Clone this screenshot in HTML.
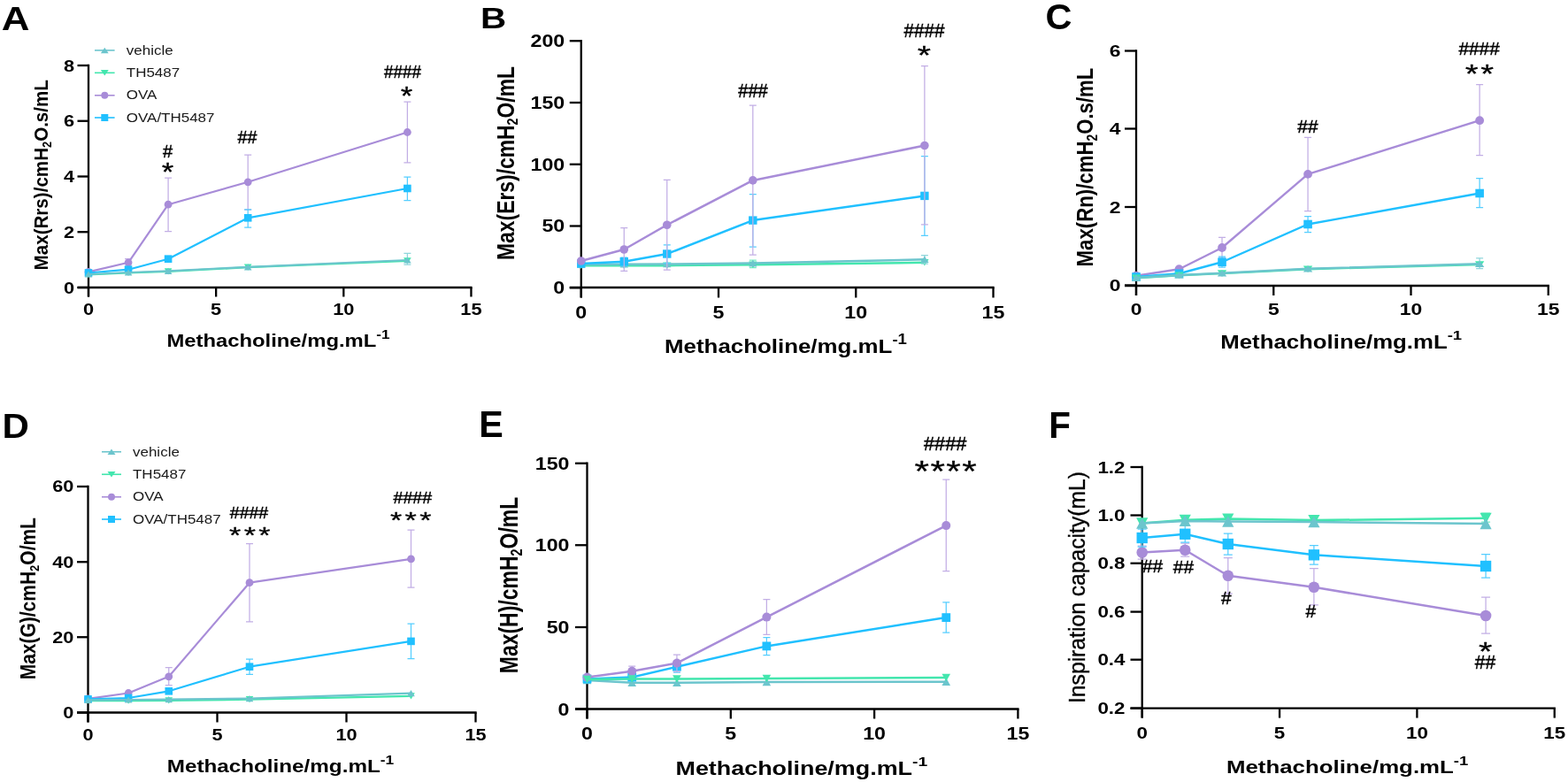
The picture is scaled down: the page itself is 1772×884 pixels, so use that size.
<!DOCTYPE html>
<html lang="en"><head><meta charset="utf-8"><title>Figure</title>
<style>html,body{margin:0;padding:0;background:#fff}body{width:1772px;height:884px;overflow:hidden}svg{display:block}</style></head>
<body>
<svg width="1772" height="884" viewBox="0 0 1772 884" font-family="'Liberation Sans', sans-serif">
<rect width="1772" height="884" fill="#fff"/>
<path d="M100.00,72.85V335.50" stroke="#000" stroke-width="2.3" fill="none"/>
<path d="M87.50,325.00H533.60" stroke="#000" stroke-width="2.3" fill="none"/>
<path d="M87.50,325.00H100.00" stroke="#000" stroke-width="2.3" fill="none"/>
<text transform="translate(84.00,331.50) scale(1.190,1.000)" font-size="18.3" font-weight="bold" text-anchor="end" fill="#000">0</text>
<path d="M87.50,262.25H100.00" stroke="#000" stroke-width="2.3" fill="none"/>
<text transform="translate(84.00,268.75) scale(1.190,1.000)" font-size="18.3" font-weight="bold" text-anchor="end" fill="#000">2</text>
<path d="M87.50,199.50H100.00" stroke="#000" stroke-width="2.3" fill="none"/>
<text transform="translate(84.00,206.00) scale(1.190,1.000)" font-size="18.3" font-weight="bold" text-anchor="end" fill="#000">4</text>
<path d="M87.50,136.75H100.00" stroke="#000" stroke-width="2.3" fill="none"/>
<text transform="translate(84.00,143.25) scale(1.190,1.000)" font-size="18.3" font-weight="bold" text-anchor="end" fill="#000">6</text>
<path d="M87.50,74.00H100.00" stroke="#000" stroke-width="2.3" fill="none"/>
<text transform="translate(84.00,80.50) scale(1.190,1.000)" font-size="18.3" font-weight="bold" text-anchor="end" fill="#000">8</text>
<path d="M100.00,325.00V335.50" stroke="#000" stroke-width="2.3" fill="none"/>
<text transform="translate(100.00,356.00) scale(1.190,1.000)" font-size="18.3" font-weight="bold" text-anchor="middle" fill="#000">0</text>
<path d="M244.15,325.00V335.50" stroke="#000" stroke-width="2.3" fill="none"/>
<text transform="translate(244.15,356.00) scale(1.190,1.000)" font-size="18.3" font-weight="bold" text-anchor="middle" fill="#000">5</text>
<path d="M388.30,325.00V335.50" stroke="#000" stroke-width="2.3" fill="none"/>
<text transform="translate(388.30,356.00) scale(1.190,1.000)" font-size="18.3" font-weight="bold" text-anchor="middle" fill="#000">10</text>
<path d="M532.45,325.00V335.50" stroke="#000" stroke-width="2.3" fill="none"/>
<text transform="translate(532.45,356.00) scale(1.190,1.000)" font-size="18.3" font-weight="bold" text-anchor="middle" fill="#000">15</text>
<text transform="translate(188.40,392.00) scale(1.180,1.000)" font-size="20.2" font-weight="bold" text-anchor="start" fill="#000">Methacholine/mg.mL<tspan font-size="14.5" dy="-9.1">-1</tspan></text>
<text transform="translate(54.40,197.75) rotate(-90) scale(1.000,1.110)" font-size="20.6" font-weight="bold" text-anchor="middle" fill="#000">Max(Rrs)/cmH<tspan font-size="12.8" dy="3.5">2</tspan><tspan dy="-3.5">O.s/mL</tspan></text>
<text transform="translate(1.80,33.70) scale(1.170,1.000)" font-size="37.5" font-weight="bold" text-anchor="start" fill="#000">A</text>
<path d="M100.00,310.50 L145.05,308.50 L190.09,306.80 L280.19,302.20 L460.38,294.80" stroke="#43E6AE" stroke-width="2.2" fill="none" stroke-linejoin="round"/>
<polygon points="100.00,314.10 95.70,306.90 104.30,306.90" fill="#43E6AE"/>
<polygon points="145.05,312.10 140.75,304.90 149.35,304.90" fill="#43E6AE"/>
<polygon points="190.09,310.40 185.79,303.20 194.39,303.20" fill="#43E6AE"/>
<polygon points="280.19,305.80 275.89,298.60 284.49,298.60" fill="#43E6AE"/>
<polygon points="460.38,298.40 456.07,291.20 464.68,291.20" fill="#43E6AE"/>
<path d="M145.05,292.50V301.00M141.05,292.50h8.00M141.05,301.00h8.00" stroke="#C2AEE5" stroke-width="1.25" fill="none"/>
<path d="M190.09,201.00V261.50M186.09,201.00h8.00M186.09,261.50h8.00" stroke="#C2AEE5" stroke-width="1.25" fill="none"/>
<path d="M280.19,175.00V237.00M276.19,175.00h8.00M276.19,237.00h8.00" stroke="#C2AEE5" stroke-width="1.25" fill="none"/>
<path d="M460.38,115.00V183.75M456.38,115.00h8.00M456.38,183.75h8.00" stroke="#C2AEE5" stroke-width="1.25" fill="none"/>
<path d="M100.00,307.40 L145.05,296.80 L190.09,231.20 L280.19,205.80 L460.38,149.50" stroke="#A88CD8" stroke-width="2.2" fill="none" stroke-linejoin="round"/>
<circle cx="100.00" cy="307.40" r="4.40" fill="#A88CD8"/>
<circle cx="145.05" cy="296.80" r="4.40" fill="#A88CD8"/>
<circle cx="190.09" cy="231.20" r="4.40" fill="#A88CD8"/>
<circle cx="280.19" cy="205.80" r="4.40" fill="#A88CD8"/>
<circle cx="460.38" cy="149.50" r="4.40" fill="#A88CD8"/>
<path d="M280.19,236.80V257.00M276.19,236.80h8.00M276.19,257.00h8.00" stroke="#55CEFF" stroke-width="1.25" fill="none"/>
<path d="M460.38,200.00V226.50M456.38,200.00h8.00M456.38,226.50h8.00" stroke="#55CEFF" stroke-width="1.25" fill="none"/>
<path d="M100.00,308.50 L145.05,304.70 L190.09,292.70 L280.19,246.30 L460.38,213.00" stroke="#20C0FF" stroke-width="2.2" fill="none" stroke-linejoin="round"/>
<rect x="95.69" y="304.19" width="8.62" height="8.62" fill="#20C0FF"/>
<rect x="140.73" y="300.39" width="8.62" height="8.62" fill="#20C0FF"/>
<rect x="185.78" y="288.39" width="8.62" height="8.62" fill="#20C0FF"/>
<rect x="275.88" y="241.99" width="8.62" height="8.62" fill="#20C0FF"/>
<rect x="456.06" y="208.69" width="8.62" height="8.62" fill="#20C0FF"/>
<path d="M460.38,286.40V299.20M456.38,286.40h8.00M456.38,299.20h8.00" stroke="#8FD6DB" stroke-width="1.25" fill="none"/>
<path d="M100.00,310.00 L145.05,308.00 L190.09,306.30 L280.19,301.80 L460.38,294.00" stroke="#6CC5CD" stroke-width="2.2" fill="none" stroke-linejoin="round"/>
<polygon points="100.00,306.40 95.70,313.60 104.30,313.60" fill="#6CC5CD"/>
<polygon points="145.05,304.40 140.75,311.60 149.35,311.60" fill="#6CC5CD"/>
<polygon points="190.09,302.70 185.79,309.90 194.39,309.90" fill="#6CC5CD"/>
<polygon points="280.19,298.20 275.89,305.40 284.49,305.40" fill="#6CC5CD"/>
<polygon points="460.38,290.40 456.07,297.60 464.68,297.60" fill="#6CC5CD"/>
<text transform="translate(189.50,178.20) scale(1.019,1.000)" font-size="19.61" font-weight="normal" text-anchor="middle" fill="#000" stroke="#000" stroke-width="0.45">#</text>
<text transform="translate(189.50,204.40) scale(1.200,1.000)" font-size="29" font-weight="normal" text-anchor="middle" fill="#000" stroke="#000" stroke-width="0.3" stroke-linejoin="round">*</text>
<text transform="translate(279.40,162.40) scale(0.981,1.000)" font-size="20.14" font-weight="normal" text-anchor="middle" fill="#000" stroke="#000" stroke-width="0.45">##</text>
<text transform="translate(455.00,88.00) scale(0.943,1.000)" font-size="19.93" font-weight="normal" text-anchor="middle" fill="#000" stroke="#000" stroke-width="0.45">####</text>
<text transform="translate(459.60,117.50) scale(1.200,1.000)" font-size="29" font-weight="normal" text-anchor="middle" fill="#000" stroke="#000" stroke-width="0.3" stroke-linejoin="round">*</text>
<path d="M656.75,45.10V336.50" stroke="#000" stroke-width="2.3" fill="none"/>
<path d="M643.75,325.00H1123.65" stroke="#000" stroke-width="2.3" fill="none"/>
<path d="M643.75,325.25H656.75" stroke="#000" stroke-width="2.3" fill="none"/>
<text transform="translate(638.25,332.21) scale(1.185,1.000)" font-size="19.6" font-weight="bold" text-anchor="end" fill="#000">0</text>
<path d="M643.75,255.50H656.75" stroke="#000" stroke-width="2.3" fill="none"/>
<text transform="translate(638.25,262.46) scale(1.185,1.000)" font-size="19.6" font-weight="bold" text-anchor="end" fill="#000">50</text>
<path d="M643.75,185.75H656.75" stroke="#000" stroke-width="2.3" fill="none"/>
<text transform="translate(638.25,192.71) scale(1.185,1.000)" font-size="19.6" font-weight="bold" text-anchor="end" fill="#000">100</text>
<path d="M643.75,116.00H656.75" stroke="#000" stroke-width="2.3" fill="none"/>
<text transform="translate(638.25,122.96) scale(1.185,1.000)" font-size="19.6" font-weight="bold" text-anchor="end" fill="#000">150</text>
<path d="M643.75,46.25H656.75" stroke="#000" stroke-width="2.3" fill="none"/>
<text transform="translate(638.25,53.21) scale(1.185,1.000)" font-size="19.6" font-weight="bold" text-anchor="end" fill="#000">200</text>
<path d="M656.75,325.00V336.50" stroke="#000" stroke-width="2.3" fill="none"/>
<text transform="translate(656.75,360.00) scale(1.185,1.000)" font-size="19.6" font-weight="bold" text-anchor="middle" fill="#000">0</text>
<path d="M812.00,325.00V336.50" stroke="#000" stroke-width="2.3" fill="none"/>
<text transform="translate(812.00,360.00) scale(1.185,1.000)" font-size="19.6" font-weight="bold" text-anchor="middle" fill="#000">5</text>
<path d="M967.25,325.00V336.50" stroke="#000" stroke-width="2.3" fill="none"/>
<text transform="translate(967.25,360.00) scale(1.185,1.000)" font-size="19.6" font-weight="bold" text-anchor="middle" fill="#000">10</text>
<path d="M1122.50,325.00V336.50" stroke="#000" stroke-width="2.3" fill="none"/>
<text transform="translate(1122.50,360.00) scale(1.185,1.000)" font-size="19.6" font-weight="bold" text-anchor="middle" fill="#000">15</text>
<text transform="translate(751.00,399.00) scale(1.166,1.000)" font-size="22.2" font-weight="bold" text-anchor="start" fill="#000">Methacholine/mg.mL<tspan font-size="16.0" dy="-10.0">-1</tspan></text>
<text transform="translate(580.50,184.50) rotate(-90) scale(1.000,1.200)" font-size="22.9" font-weight="bold" text-anchor="middle" fill="#000">Max(Ers)/cmH<tspan font-size="14.2" dy="3.9">2</tspan><tspan dy="-3.9">O/mL</tspan></text>
<text transform="translate(543.00,32.00) scale(1.245,1.000)" font-size="32.5" font-weight="bold" text-anchor="start" fill="#000">B</text>
<path d="M850.81,294.00V302.50M846.81,294.00h8.00M846.81,302.50h8.00" stroke="#72EEC2" stroke-width="1.25" fill="none"/>
<path d="M656.75,300.20 L705.27,300.30 L753.78,300.20 L850.81,299.20 L1044.88,296.80" stroke="#43E6AE" stroke-width="2.5" fill="none" stroke-linejoin="round"/>
<polygon points="656.75,304.00 652.05,296.40 661.45,296.40" fill="#43E6AE"/>
<polygon points="705.27,304.10 700.57,296.50 709.97,296.50" fill="#43E6AE"/>
<polygon points="753.78,304.00 749.08,296.40 758.48,296.40" fill="#43E6AE"/>
<polygon points="850.81,303.00 846.11,295.40 855.51,295.40" fill="#43E6AE"/>
<polygon points="1044.88,300.60 1040.17,293.00 1049.58,293.00" fill="#43E6AE"/>
<path d="M1044.88,288.60V298.00M1040.88,288.60h8.00M1040.88,298.00h8.00" stroke="#8FD6DB" stroke-width="1.25" fill="none"/>
<path d="M656.75,299.00 L705.27,298.80 L753.78,298.50 L850.81,297.60 L1044.88,293.30" stroke="#6CC5CD" stroke-width="2.5" fill="none" stroke-linejoin="round"/>
<polygon points="656.75,295.20 652.05,302.80 661.45,302.80" fill="#6CC5CD"/>
<polygon points="705.27,295.00 700.57,302.60 709.97,302.60" fill="#6CC5CD"/>
<polygon points="753.78,294.70 749.08,302.30 758.48,302.30" fill="#6CC5CD"/>
<polygon points="850.81,293.80 846.11,301.40 855.51,301.40" fill="#6CC5CD"/>
<polygon points="1044.88,289.50 1040.17,297.10 1049.58,297.10" fill="#6CC5CD"/>
<path d="M705.27,291.00V300.50M701.27,291.00h8.00M701.27,300.50h8.00" stroke="#55CEFF" stroke-width="1.25" fill="none"/>
<path d="M753.78,276.75V297.50M749.78,276.75h8.00M749.78,297.50h8.00" stroke="#55CEFF" stroke-width="1.25" fill="none"/>
<path d="M850.81,219.60V279.20M846.81,219.60h8.00M846.81,279.20h8.00" stroke="#55CEFF" stroke-width="1.25" fill="none"/>
<path d="M1044.88,176.50V266.40M1040.88,176.50h8.00M1040.88,266.40h8.00" stroke="#55CEFF" stroke-width="1.25" fill="none"/>
<path d="M656.75,298.00 L705.27,295.75 L753.78,287.00 L850.81,249.10 L1044.88,221.40" stroke="#20C0FF" stroke-width="2.5" fill="none" stroke-linejoin="round"/>
<rect x="652.05" y="293.30" width="9.41" height="9.41" fill="#20C0FF"/>
<rect x="700.56" y="291.05" width="9.41" height="9.41" fill="#20C0FF"/>
<rect x="749.08" y="282.30" width="9.41" height="9.41" fill="#20C0FF"/>
<rect x="846.11" y="244.40" width="9.41" height="9.41" fill="#20C0FF"/>
<rect x="1040.17" y="216.70" width="9.41" height="9.41" fill="#20C0FF"/>
<path d="M705.27,257.50V306.25M701.27,257.50h8.00M701.27,306.25h8.00" stroke="#C2AEE5" stroke-width="1.25" fill="none"/>
<path d="M753.78,203.25V305.00M749.78,203.25h8.00M749.78,305.00h8.00" stroke="#C2AEE5" stroke-width="1.25" fill="none"/>
<path d="M850.81,119.20V288.00M846.81,119.20h8.00M846.81,288.00h8.00" stroke="#C2AEE5" stroke-width="1.25" fill="none"/>
<path d="M1044.88,74.60V253.80M1040.88,74.60h8.00M1040.88,253.80h8.00" stroke="#C2AEE5" stroke-width="1.25" fill="none"/>
<path d="M656.75,295.00 L705.27,282.00 L753.78,254.25 L850.81,203.90 L1044.88,164.50" stroke="#A88CD8" stroke-width="2.5" fill="none" stroke-linejoin="round"/>
<circle cx="656.75" cy="295.00" r="4.80" fill="#A88CD8"/>
<circle cx="705.27" cy="282.00" r="4.80" fill="#A88CD8"/>
<circle cx="753.78" cy="254.25" r="4.80" fill="#A88CD8"/>
<circle cx="850.81" cy="203.90" r="4.80" fill="#A88CD8"/>
<circle cx="1044.88" cy="164.50" r="4.80" fill="#A88CD8"/>
<text transform="translate(851.00,109.50) scale(0.934,1.000)" font-size="21.62" font-weight="normal" text-anchor="middle" fill="#000" stroke="#000" stroke-width="0.45">###</text>
<text transform="translate(1044.40,42.00) scale(0.958,1.000)" font-size="21.62" font-weight="normal" text-anchor="middle" fill="#000" stroke="#000" stroke-width="0.45">####</text>
<text transform="translate(1044.50,71.50) scale(1.290,1.000)" font-size="30.4" font-weight="normal" text-anchor="middle" fill="#000" stroke="#000" stroke-width="0.3" stroke-linejoin="round">*</text>
<path d="M1284.00,56.35V334.00" stroke="#000" stroke-width="2.3" fill="none"/>
<path d="M1271.00,323.00H1750.90" stroke="#000" stroke-width="2.3" fill="none"/>
<path d="M1271.00,322.50H1284.00" stroke="#000" stroke-width="2.3" fill="none"/>
<text transform="translate(1266.50,329.00) scale(1.250,1.000)" font-size="18.3" font-weight="bold" text-anchor="end" fill="#000">0</text>
<path d="M1271.00,234.00H1284.00" stroke="#000" stroke-width="2.3" fill="none"/>
<text transform="translate(1266.50,240.50) scale(1.250,1.000)" font-size="18.3" font-weight="bold" text-anchor="end" fill="#000">2</text>
<path d="M1271.00,145.50H1284.00" stroke="#000" stroke-width="2.3" fill="none"/>
<text transform="translate(1266.50,152.00) scale(1.250,1.000)" font-size="18.3" font-weight="bold" text-anchor="end" fill="#000">4</text>
<path d="M1271.00,57.50H1284.00" stroke="#000" stroke-width="2.3" fill="none"/>
<text transform="translate(1266.50,64.00) scale(1.250,1.000)" font-size="18.3" font-weight="bold" text-anchor="end" fill="#000">6</text>
<path d="M1284.00,323.00V334.00" stroke="#000" stroke-width="2.3" fill="none"/>
<text transform="translate(1284.00,355.80) scale(1.250,1.000)" font-size="18.3" font-weight="bold" text-anchor="middle" fill="#000">0</text>
<path d="M1439.25,323.00V334.00" stroke="#000" stroke-width="2.3" fill="none"/>
<text transform="translate(1439.25,355.80) scale(1.250,1.000)" font-size="18.3" font-weight="bold" text-anchor="middle" fill="#000">5</text>
<path d="M1594.50,323.00V334.00" stroke="#000" stroke-width="2.3" fill="none"/>
<text transform="translate(1594.50,355.80) scale(1.250,1.000)" font-size="18.3" font-weight="bold" text-anchor="middle" fill="#000">10</text>
<path d="M1749.75,323.00V334.00" stroke="#000" stroke-width="2.3" fill="none"/>
<text transform="translate(1749.75,355.80) scale(1.250,1.000)" font-size="18.3" font-weight="bold" text-anchor="middle" fill="#000">15</text>
<text transform="translate(1379.30,394.00) scale(1.205,1.000)" font-size="21.4" font-weight="bold" text-anchor="start" fill="#000">Methacholine/mg.mL<tspan font-size="15.4" dy="-9.6">-1</tspan></text>
<text transform="translate(1235.20,189.00) rotate(-90) scale(1.000,1.200)" font-size="22.2" font-weight="bold" text-anchor="middle" fill="#000">Max(Rn)/cmH<tspan font-size="13.8" dy="3.8">2</tspan><tspan dy="-3.8">O.s/mL</tspan></text>
<text transform="translate(1181.50,33.00)" font-size="41.5" font-weight="bold" text-anchor="start" fill="#000">C</text>
<path d="M1381.03,268.25V291.00M1377.03,268.25h8.00M1377.03,291.00h8.00" stroke="#C2AEE5" stroke-width="1.25" fill="none"/>
<path d="M1478.06,155.40V238.60M1474.06,155.40h8.00M1474.06,238.60h8.00" stroke="#C2AEE5" stroke-width="1.25" fill="none"/>
<path d="M1672.12,95.60V175.60M1668.12,95.60h8.00M1668.12,175.60h8.00" stroke="#C2AEE5" stroke-width="1.25" fill="none"/>
<path d="M1284.00,311.75 L1332.52,304.25 L1381.03,280.00 L1478.06,196.90 L1672.12,136.20" stroke="#A88CD8" stroke-width="2.4" fill="none" stroke-linejoin="round"/>
<circle cx="1284.00" cy="311.75" r="4.90" fill="#A88CD8"/>
<circle cx="1332.52" cy="304.25" r="4.90" fill="#A88CD8"/>
<circle cx="1381.03" cy="280.00" r="4.90" fill="#A88CD8"/>
<circle cx="1478.06" cy="196.90" r="4.90" fill="#A88CD8"/>
<circle cx="1672.12" cy="136.20" r="4.90" fill="#A88CD8"/>
<path d="M1381.03,290.00V302.00M1377.03,290.00h8.00M1377.03,302.00h8.00" stroke="#55CEFF" stroke-width="1.25" fill="none"/>
<path d="M1478.06,244.70V262.50M1474.06,244.70h8.00M1474.06,262.50h8.00" stroke="#55CEFF" stroke-width="1.25" fill="none"/>
<path d="M1672.12,201.50V234.50M1668.12,201.50h8.00M1668.12,234.50h8.00" stroke="#55CEFF" stroke-width="1.25" fill="none"/>
<path d="M1284.00,313.00 L1332.52,309.25 L1381.03,296.25 L1478.06,253.50 L1672.12,218.50" stroke="#20C0FF" stroke-width="2.4" fill="none" stroke-linejoin="round"/>
<rect x="1279.20" y="308.20" width="9.60" height="9.60" fill="#20C0FF"/>
<rect x="1327.71" y="304.45" width="9.60" height="9.60" fill="#20C0FF"/>
<rect x="1376.23" y="291.45" width="9.60" height="9.60" fill="#20C0FF"/>
<rect x="1473.26" y="248.70" width="9.60" height="9.60" fill="#20C0FF"/>
<rect x="1667.32" y="213.70" width="9.60" height="9.60" fill="#20C0FF"/>
<path d="M1284.00,314.30 L1332.52,311.30 L1381.03,309.10 L1478.06,304.20 L1672.12,299.00" stroke="#43E6AE" stroke-width="2.4" fill="none" stroke-linejoin="round"/>
<polygon points="1284.00,318.10 1278.80,310.50 1289.20,310.50" fill="#43E6AE"/>
<polygon points="1332.52,315.10 1327.32,307.50 1337.72,307.50" fill="#43E6AE"/>
<polygon points="1381.03,312.90 1375.83,305.30 1386.23,305.30" fill="#43E6AE"/>
<polygon points="1478.06,308.00 1472.86,300.40 1483.26,300.40" fill="#43E6AE"/>
<polygon points="1672.12,302.80 1666.92,295.20 1677.33,295.20" fill="#43E6AE"/>
<path d="M1672.12,291.80V303.50M1668.12,291.80h8.00M1668.12,303.50h8.00" stroke="#8FD6DB" stroke-width="1.25" fill="none"/>
<path d="M1284.00,314.00 L1332.52,311.00 L1381.03,308.75 L1478.06,303.80 L1672.12,298.20" stroke="#6CC5CD" stroke-width="2.4" fill="none" stroke-linejoin="round"/>
<polygon points="1284.00,310.20 1278.80,317.80 1289.20,317.80" fill="#6CC5CD"/>
<polygon points="1332.52,307.20 1327.32,314.80 1337.72,314.80" fill="#6CC5CD"/>
<polygon points="1381.03,304.95 1375.83,312.55 1386.23,312.55" fill="#6CC5CD"/>
<polygon points="1478.06,300.00 1472.86,307.60 1483.26,307.60" fill="#6CC5CD"/>
<polygon points="1672.12,294.40 1666.92,302.00 1677.33,302.00" fill="#6CC5CD"/>
<text transform="translate(1478.00,150.10) scale(1.028,1.000)" font-size="20.35" font-weight="normal" text-anchor="middle" fill="#000" stroke="#000" stroke-width="0.45">##</text>
<text transform="translate(1671.60,62.40)" font-size="20.78" font-weight="normal" text-anchor="middle" fill="#000" stroke="#000" stroke-width="0.45">####</text>
<text transform="translate(1673.32,93.40) scale(1.290,1.000)" font-size="29.6" font-weight="normal" text-anchor="middle" fill="#000" stroke="#000" stroke-width="0.3" stroke-linejoin="round" letter-spacing="2.2">**</text>
<path d="M99.50,548.85V816.50" stroke="#000" stroke-width="2.3" fill="none"/>
<path d="M87.00,805.50H538.65" stroke="#000" stroke-width="2.3" fill="none"/>
<path d="M87.00,805.50H99.50" stroke="#000" stroke-width="2.3" fill="none"/>
<text transform="translate(83.30,811.82) scale(1.220,1.000)" font-size="17.8" font-weight="bold" text-anchor="end" fill="#000">0</text>
<path d="M87.00,720.25H99.50" stroke="#000" stroke-width="2.3" fill="none"/>
<text transform="translate(83.30,726.57) scale(1.220,1.000)" font-size="17.8" font-weight="bold" text-anchor="end" fill="#000">20</text>
<path d="M87.00,635.25H99.50" stroke="#000" stroke-width="2.3" fill="none"/>
<text transform="translate(83.30,641.57) scale(1.220,1.000)" font-size="17.8" font-weight="bold" text-anchor="end" fill="#000">40</text>
<path d="M87.00,550.00H99.50" stroke="#000" stroke-width="2.3" fill="none"/>
<text transform="translate(83.30,556.32) scale(1.220,1.000)" font-size="17.8" font-weight="bold" text-anchor="end" fill="#000">60</text>
<path d="M99.50,805.50V816.50" stroke="#000" stroke-width="2.3" fill="none"/>
<text transform="translate(99.50,837.00) scale(1.220,1.000)" font-size="17.8" font-weight="bold" text-anchor="middle" fill="#000">0</text>
<path d="M245.50,805.50V816.50" stroke="#000" stroke-width="2.3" fill="none"/>
<text transform="translate(245.50,837.00) scale(1.220,1.000)" font-size="17.8" font-weight="bold" text-anchor="middle" fill="#000">5</text>
<path d="M391.50,805.50V816.50" stroke="#000" stroke-width="2.3" fill="none"/>
<text transform="translate(391.50,837.00) scale(1.220,1.000)" font-size="17.8" font-weight="bold" text-anchor="middle" fill="#000">10</text>
<path d="M537.50,805.50V816.50" stroke="#000" stroke-width="2.3" fill="none"/>
<text transform="translate(537.50,837.00) scale(1.220,1.000)" font-size="17.8" font-weight="bold" text-anchor="middle" fill="#000">15</text>
<text transform="translate(188.80,873.40) scale(1.200,1.000)" font-size="20.2" font-weight="bold" text-anchor="start" fill="#000">Methacholine/mg.mL<tspan font-size="14.5" dy="-9.1">-1</tspan></text>
<text transform="translate(39.60,676.70) rotate(-90) scale(1.000,1.165)" font-size="21" font-weight="bold" text-anchor="middle" fill="#000">Max(G)/cmH<tspan font-size="13.0" dy="3.6">2</tspan><tspan dy="-3.6">O/mL</tspan></text>
<text transform="translate(2.50,495.20) scale(1.080,1.000)" font-size="39" font-weight="bold" text-anchor="start" fill="#000">D</text>
<path d="M99.50,792.20 L145.12,792.20 L190.75,791.90 L282.00,790.70 L464.50,786.80" stroke="#43E6AE" stroke-width="2.2" fill="none" stroke-linejoin="round"/>
<polygon points="99.50,795.80 95.20,788.60 103.80,788.60" fill="#43E6AE"/>
<polygon points="145.12,795.80 140.82,788.60 149.43,788.60" fill="#43E6AE"/>
<polygon points="190.75,795.50 186.45,788.30 195.05,788.30" fill="#43E6AE"/>
<polygon points="282.00,794.30 277.70,787.10 286.30,787.10" fill="#43E6AE"/>
<polygon points="464.50,790.40 460.20,783.20 468.80,783.20" fill="#43E6AE"/>
<path d="M190.75,754.50V774.70M186.75,754.50h8.00M186.75,774.70h8.00" stroke="#C2AEE5" stroke-width="1.25" fill="none"/>
<path d="M282.00,614.50V702.80M278.00,614.50h8.00M278.00,702.80h8.00" stroke="#C2AEE5" stroke-width="1.25" fill="none"/>
<path d="M464.50,599.20V664.20M460.50,599.20h8.00M460.50,664.20h8.00" stroke="#C2AEE5" stroke-width="1.25" fill="none"/>
<path d="M99.50,789.90 L145.12,783.50 L190.75,764.80 L282.00,658.70 L464.50,631.90" stroke="#A88CD8" stroke-width="2.2" fill="none" stroke-linejoin="round"/>
<circle cx="99.50" cy="789.90" r="4.40" fill="#A88CD8"/>
<circle cx="145.12" cy="783.50" r="4.40" fill="#A88CD8"/>
<circle cx="190.75" cy="764.80" r="4.40" fill="#A88CD8"/>
<circle cx="282.00" cy="658.70" r="4.40" fill="#A88CD8"/>
<circle cx="464.50" cy="631.90" r="4.40" fill="#A88CD8"/>
<path d="M282.00,745.20V762.30M278.00,745.20h8.00M278.00,762.30h8.00" stroke="#55CEFF" stroke-width="1.25" fill="none"/>
<path d="M464.50,705.00V744.70M460.50,705.00h8.00M460.50,744.70h8.00" stroke="#55CEFF" stroke-width="1.25" fill="none"/>
<path d="M99.50,790.40 L145.12,789.00 L190.75,781.30 L282.00,753.70 L464.50,724.90" stroke="#20C0FF" stroke-width="2.2" fill="none" stroke-linejoin="round"/>
<rect x="95.19" y="786.09" width="8.62" height="8.62" fill="#20C0FF"/>
<rect x="140.81" y="784.69" width="8.62" height="8.62" fill="#20C0FF"/>
<rect x="186.44" y="776.99" width="8.62" height="8.62" fill="#20C0FF"/>
<rect x="277.69" y="749.39" width="8.62" height="8.62" fill="#20C0FF"/>
<rect x="460.19" y="720.59" width="8.62" height="8.62" fill="#20C0FF"/>
<path d="M99.50,791.30 L145.12,791.00 L190.75,790.60 L282.00,789.60 L464.50,783.70" stroke="#6CC5CD" stroke-width="2.2" fill="none" stroke-linejoin="round"/>
<polygon points="99.50,787.70 95.20,794.90 103.80,794.90" fill="#6CC5CD"/>
<polygon points="145.12,787.40 140.82,794.60 149.43,794.60" fill="#6CC5CD"/>
<polygon points="190.75,787.00 186.45,794.20 195.05,794.20" fill="#6CC5CD"/>
<polygon points="282.00,786.00 277.70,793.20 286.30,793.20" fill="#6CC5CD"/>
<polygon points="464.50,780.10 460.20,787.30 468.80,787.30" fill="#6CC5CD"/>
<text transform="translate(281.50,586.40) scale(1.104,1.000)" font-size="17.7" font-weight="normal" text-anchor="middle" fill="#000" stroke="#000" stroke-width="0.45">####</text>
<text transform="translate(283.98,613.80) scale(1.340,1.000)" font-size="25.5" font-weight="normal" text-anchor="middle" fill="#000" stroke="#000" stroke-width="0.3" stroke-linejoin="round" letter-spacing="2.5">***</text>
<text transform="translate(466.30,568.80) scale(1.104,1.000)" font-size="17.7" font-weight="normal" text-anchor="middle" fill="#000" stroke="#000" stroke-width="0.45">####</text>
<text transform="translate(465.88,597.00) scale(1.340,1.000)" font-size="25.5" font-weight="normal" text-anchor="middle" fill="#000" stroke="#000" stroke-width="0.3" stroke-linejoin="round" letter-spacing="2.5">***</text>
<path d="M663.50,522.60V812.50" stroke="#000" stroke-width="2.3" fill="none"/>
<path d="M650.00,801.50H1151.55" stroke="#000" stroke-width="2.3" fill="none"/>
<path d="M650.00,801.50H663.50" stroke="#000" stroke-width="2.3" fill="none"/>
<text transform="translate(643.50,808.53) scale(1.170,1.000)" font-size="19.8" font-weight="bold" text-anchor="end" fill="#000">0</text>
<path d="M650.00,709.00H663.50" stroke="#000" stroke-width="2.3" fill="none"/>
<text transform="translate(643.50,716.03) scale(1.170,1.000)" font-size="19.8" font-weight="bold" text-anchor="end" fill="#000">50</text>
<path d="M650.00,616.25H663.50" stroke="#000" stroke-width="2.3" fill="none"/>
<text transform="translate(643.50,623.28) scale(1.170,1.000)" font-size="19.8" font-weight="bold" text-anchor="end" fill="#000">100</text>
<path d="M650.00,523.75H663.50" stroke="#000" stroke-width="2.3" fill="none"/>
<text transform="translate(643.50,530.78) scale(1.170,1.000)" font-size="19.8" font-weight="bold" text-anchor="end" fill="#000">150</text>
<path d="M663.50,801.50V812.50" stroke="#000" stroke-width="2.3" fill="none"/>
<text transform="translate(663.50,836.20) scale(1.170,1.000)" font-size="19.8" font-weight="bold" text-anchor="middle" fill="#000">0</text>
<path d="M825.80,801.50V812.50" stroke="#000" stroke-width="2.3" fill="none"/>
<text transform="translate(825.80,836.20) scale(1.170,1.000)" font-size="19.8" font-weight="bold" text-anchor="middle" fill="#000">5</text>
<path d="M988.10,801.50V812.50" stroke="#000" stroke-width="2.3" fill="none"/>
<text transform="translate(988.10,836.20) scale(1.170,1.000)" font-size="19.8" font-weight="bold" text-anchor="middle" fill="#000">10</text>
<path d="M1150.40,801.50V812.50" stroke="#000" stroke-width="2.3" fill="none"/>
<text transform="translate(1150.40,836.20) scale(1.170,1.000)" font-size="19.8" font-weight="bold" text-anchor="middle" fill="#000">15</text>
<text transform="translate(763.50,875.60) scale(1.258,1.000)" font-size="21.4" font-weight="bold" text-anchor="start" fill="#000">Methacholine/mg.mL<tspan font-size="15.4" dy="-9.6">-1</tspan></text>
<text transform="translate(585.40,661.50) rotate(-90) scale(1.000,1.250)" font-size="23" font-weight="bold" text-anchor="middle" fill="#000">Max(H)/cmH<tspan font-size="14.3" dy="3.9">2</tspan><tspan dy="-3.9">O/mL</tspan></text>
<text transform="translate(541.30,494.00) scale(0.960,1.000)" font-size="43" font-weight="bold" text-anchor="start" fill="#000">E</text>
<path d="M663.50,769.00 L714.22,771.70 L764.94,771.70 L866.38,771.00 L1069.25,770.70" stroke="#6CC5CD" stroke-width="2.5" fill="none" stroke-linejoin="round"/>
<polygon points="663.50,764.65 658.70,773.35 668.30,773.35" fill="#6CC5CD"/>
<polygon points="714.22,767.35 709.42,776.05 719.02,776.05" fill="#6CC5CD"/>
<polygon points="764.94,767.35 760.14,776.05 769.74,776.05" fill="#6CC5CD"/>
<polygon points="866.38,766.65 861.58,775.35 871.17,775.35" fill="#6CC5CD"/>
<polygon points="1069.25,766.35 1064.45,775.05 1074.05,775.05" fill="#6CC5CD"/>
<path d="M764.94,748.00V760.00M760.94,748.00h8.00M760.94,760.00h8.00" stroke="#55CEFF" stroke-width="1.25" fill="none"/>
<path d="M866.38,720.60V740.70M862.38,720.60h8.00M862.38,740.70h8.00" stroke="#55CEFF" stroke-width="1.25" fill="none"/>
<path d="M1069.25,680.80V715.00M1065.25,680.80h8.00M1065.25,715.00h8.00" stroke="#55CEFF" stroke-width="1.25" fill="none"/>
<path d="M663.50,767.50 L714.22,765.60 L764.94,753.70 L866.38,730.40 L1069.25,698.10" stroke="#20C0FF" stroke-width="2.5" fill="none" stroke-linejoin="round"/>
<rect x="658.60" y="762.60" width="9.80" height="9.80" fill="#20C0FF"/>
<rect x="709.32" y="760.70" width="9.80" height="9.80" fill="#20C0FF"/>
<rect x="760.04" y="748.80" width="9.80" height="9.80" fill="#20C0FF"/>
<rect x="861.48" y="725.50" width="9.80" height="9.80" fill="#20C0FF"/>
<rect x="1064.35" y="693.20" width="9.80" height="9.80" fill="#20C0FF"/>
<path d="M714.22,753.00V764.00M710.22,753.00h8.00M710.22,764.00h8.00" stroke="#C2AEE5" stroke-width="1.25" fill="none"/>
<path d="M764.94,740.00V759.00M760.94,740.00h8.00M760.94,759.00h8.00" stroke="#C2AEE5" stroke-width="1.25" fill="none"/>
<path d="M866.38,677.50V717.30M862.38,677.50h8.00M862.38,717.30h8.00" stroke="#C2AEE5" stroke-width="1.25" fill="none"/>
<path d="M1069.25,542.10V645.60M1065.25,542.10h8.00M1065.25,645.60h8.00" stroke="#C2AEE5" stroke-width="1.25" fill="none"/>
<path d="M663.50,765.60 L714.22,758.70 L764.94,749.60 L866.38,697.60 L1069.25,594.10" stroke="#A88CD8" stroke-width="2.5" fill="none" stroke-linejoin="round"/>
<circle cx="663.50" cy="765.60" r="5.00" fill="#A88CD8"/>
<circle cx="714.22" cy="758.70" r="5.00" fill="#A88CD8"/>
<circle cx="764.94" cy="749.60" r="5.00" fill="#A88CD8"/>
<circle cx="866.38" cy="697.60" r="5.00" fill="#A88CD8"/>
<circle cx="1069.25" cy="594.10" r="5.00" fill="#A88CD8"/>
<path d="M663.50,768.00 L714.22,767.50 L764.94,767.50 L866.38,767.00 L1069.25,766.00" stroke="#43E6AE" stroke-width="2.5" fill="none" stroke-linejoin="round"/>
<polygon points="663.50,772.35 658.70,763.65 668.30,763.65" fill="#43E6AE"/>
<polygon points="714.22,771.85 709.42,763.15 719.02,763.15" fill="#43E6AE"/>
<polygon points="764.94,771.85 760.14,763.15 769.74,763.15" fill="#43E6AE"/>
<polygon points="866.38,771.35 861.58,762.65 871.17,762.65" fill="#43E6AE"/>
<polygon points="1069.25,770.35 1064.45,761.65 1074.05,761.65" fill="#43E6AE"/>
<text transform="translate(1068.20,508.50) scale(0.981,1.000)" font-size="22.15" font-weight="normal" text-anchor="middle" fill="#000" stroke="#000" stroke-width="0.45">####</text>
<text transform="translate(1069.31,544.30) scale(1.300,1.000)" font-size="32.5" font-weight="normal" text-anchor="middle" fill="#000" stroke="#000" stroke-width="0.3" stroke-linejoin="round" letter-spacing="1.1">****</text>
<path d="M1290.70,526.85V811.60" stroke="#000" stroke-width="2.3" fill="none"/>
<path d="M1277.50,800.60H1757.90" stroke="#000" stroke-width="2.3" fill="none"/>
<path d="M1277.50,800.60H1290.70" stroke="#000" stroke-width="2.3" fill="none"/>
<text transform="translate(1271.50,807.27) scale(1.190,1.000)" font-size="18.8" font-weight="bold" text-anchor="end" fill="#000">0.2</text>
<path d="M1277.50,745.70H1290.70" stroke="#000" stroke-width="2.3" fill="none"/>
<text transform="translate(1271.50,752.37) scale(1.190,1.000)" font-size="18.8" font-weight="bold" text-anchor="end" fill="#000">0.4</text>
<path d="M1277.50,691.60H1290.70" stroke="#000" stroke-width="2.3" fill="none"/>
<text transform="translate(1271.50,698.27) scale(1.190,1.000)" font-size="18.8" font-weight="bold" text-anchor="end" fill="#000">0.6</text>
<path d="M1277.50,636.75H1290.70" stroke="#000" stroke-width="2.3" fill="none"/>
<text transform="translate(1271.50,643.42) scale(1.190,1.000)" font-size="18.8" font-weight="bold" text-anchor="end" fill="#000">0.8</text>
<path d="M1277.50,582.50H1290.70" stroke="#000" stroke-width="2.3" fill="none"/>
<text transform="translate(1271.50,589.17) scale(1.190,1.000)" font-size="18.8" font-weight="bold" text-anchor="end" fill="#000">1.0</text>
<path d="M1277.50,528.00H1290.70" stroke="#000" stroke-width="2.3" fill="none"/>
<text transform="translate(1271.50,534.67) scale(1.190,1.000)" font-size="18.8" font-weight="bold" text-anchor="end" fill="#000">1.2</text>
<path d="M1290.70,800.60V811.60" stroke="#000" stroke-width="2.3" fill="none"/>
<text transform="translate(1290.70,835.00) scale(1.190,1.000)" font-size="18.8" font-weight="bold" text-anchor="middle" fill="#000">0</text>
<path d="M1446.05,800.60V811.60" stroke="#000" stroke-width="2.3" fill="none"/>
<text transform="translate(1446.05,835.00) scale(1.190,1.000)" font-size="18.8" font-weight="bold" text-anchor="middle" fill="#000">5</text>
<path d="M1601.40,800.60V811.60" stroke="#000" stroke-width="2.3" fill="none"/>
<text transform="translate(1601.40,835.00) scale(1.190,1.000)" font-size="18.8" font-weight="bold" text-anchor="middle" fill="#000">10</text>
<path d="M1756.75,800.60V811.60" stroke="#000" stroke-width="2.3" fill="none"/>
<text transform="translate(1756.75,835.00) scale(1.190,1.000)" font-size="18.8" font-weight="bold" text-anchor="middle" fill="#000">15</text>
<text transform="translate(1386.00,873.90) scale(1.236,1.000)" font-size="20.9" font-weight="bold" text-anchor="start" fill="#000">Methacholine/mg.mL<tspan font-size="15.0" dy="-9.4">-1</tspan></text>
<text transform="translate(1225.80,664.00) rotate(-90) scale(1.000,1.050)" font-size="24.7" font-weight="normal" text-anchor="middle" fill="#000" stroke="#000" stroke-width="0.35">Inspiration capacity(mL)</text>
<text transform="translate(1185.30,495.00) scale(0.950,1.000)" font-size="42.5" font-weight="bold" text-anchor="start" fill="#000">F</text>
<path d="M1290.70,617.00V632.00M1285.70,617.00h10.00M1285.70,632.00h10.00" stroke="#C2AEE5" stroke-width="1.25" fill="none"/>
<path d="M1339.25,614.00V629.00M1334.25,614.00h10.00M1334.25,629.00h10.00" stroke="#C2AEE5" stroke-width="1.25" fill="none"/>
<path d="M1387.79,630.50V671.00M1382.79,630.50h10.00M1382.79,671.00h10.00" stroke="#C2AEE5" stroke-width="1.25" fill="none"/>
<path d="M1484.89,642.50V683.80M1479.89,642.50h10.00M1479.89,683.80h10.00" stroke="#C2AEE5" stroke-width="1.25" fill="none"/>
<path d="M1679.08,675.00V716.00M1674.08,675.00h10.00M1674.08,716.00h10.00" stroke="#C2AEE5" stroke-width="1.25" fill="none"/>
<path d="M1290.70,624.50 L1339.25,621.75 L1387.79,650.75 L1484.89,663.80 L1679.08,696.00" stroke="#A88CD8" stroke-width="2.5" fill="none" stroke-linejoin="round"/>
<circle cx="1290.70" cy="624.50" r="6.30" fill="#A88CD8"/>
<circle cx="1339.25" cy="621.75" r="6.30" fill="#A88CD8"/>
<circle cx="1387.79" cy="650.75" r="6.30" fill="#A88CD8"/>
<circle cx="1484.89" cy="663.80" r="6.30" fill="#A88CD8"/>
<circle cx="1679.08" cy="696.00" r="6.30" fill="#A88CD8"/>
<path d="M1290.70,598.00V618.00M1285.70,598.00h10.00M1285.70,618.00h10.00" stroke="#55CEFF" stroke-width="1.25" fill="none"/>
<path d="M1339.25,594.00V613.00M1334.25,594.00h10.00M1334.25,613.00h10.00" stroke="#55CEFF" stroke-width="1.25" fill="none"/>
<path d="M1387.79,603.00V627.00M1382.79,603.00h10.00M1382.79,627.00h10.00" stroke="#55CEFF" stroke-width="1.25" fill="none"/>
<path d="M1484.89,616.50V638.20M1479.89,616.50h10.00M1479.89,638.20h10.00" stroke="#55CEFF" stroke-width="1.25" fill="none"/>
<path d="M1679.08,626.50V653.00M1674.08,626.50h10.00M1674.08,653.00h10.00" stroke="#55CEFF" stroke-width="1.25" fill="none"/>
<path d="M1290.70,608.00 L1339.25,603.75 L1387.79,615.00 L1484.89,627.30 L1679.08,640.00" stroke="#20C0FF" stroke-width="2.5" fill="none" stroke-linejoin="round"/>
<rect x="1284.53" y="601.83" width="12.35" height="12.35" fill="#20C0FF"/>
<rect x="1333.07" y="597.58" width="12.35" height="12.35" fill="#20C0FF"/>
<rect x="1381.62" y="608.83" width="12.35" height="12.35" fill="#20C0FF"/>
<rect x="1478.71" y="621.13" width="12.35" height="12.35" fill="#20C0FF"/>
<rect x="1672.90" y="633.83" width="12.35" height="12.35" fill="#20C0FF"/>
<path d="M1679.08,580.00V590.00M1674.08,580.00h10.00M1674.08,590.00h10.00" stroke="#72EEC2" stroke-width="1.25" fill="none"/>
<path d="M1290.70,591.50 L1339.25,587.80 L1387.79,586.60 L1484.89,588.10 L1679.08,585.80" stroke="#43E6AE" stroke-width="2.5" fill="none" stroke-linejoin="round"/>
<polygon points="1290.70,597.65 1284.10,585.35 1297.30,585.35" fill="#43E6AE"/>
<polygon points="1339.25,593.95 1332.65,581.65 1345.85,581.65" fill="#43E6AE"/>
<polygon points="1387.79,592.75 1381.19,580.45 1394.39,580.45" fill="#43E6AE"/>
<polygon points="1484.89,594.25 1478.29,581.95 1491.49,581.95" fill="#43E6AE"/>
<polygon points="1679.08,591.95 1672.48,579.65 1685.67,579.65" fill="#43E6AE"/>
<path d="M1290.70,591.50 L1339.25,588.90 L1387.79,589.50 L1484.89,590.10 L1679.08,592.00" stroke="#6CC5CD" stroke-width="2.5" fill="none" stroke-linejoin="round"/>
<polygon points="1290.70,585.35 1284.10,597.65 1297.30,597.65" fill="#6CC5CD"/>
<polygon points="1339.25,582.75 1332.65,595.05 1345.85,595.05" fill="#6CC5CD"/>
<polygon points="1387.79,583.35 1381.19,595.65 1394.39,595.65" fill="#6CC5CD"/>
<polygon points="1484.89,583.95 1478.29,596.25 1491.49,596.25" fill="#6CC5CD"/>
<polygon points="1679.08,585.85 1672.48,598.15 1685.67,598.15" fill="#6CC5CD"/>
<text transform="translate(1302.60,646.80) scale(1.009,1.000)" font-size="20.67" font-weight="normal" text-anchor="middle" fill="#000" stroke="#000" stroke-width="0.45">##</text>
<text transform="translate(1337.40,648.00) scale(1.009,1.000)" font-size="20.67" font-weight="normal" text-anchor="middle" fill="#000" stroke="#000" stroke-width="0.45">##</text>
<text transform="translate(1385.80,682.50) scale(1.009,1.000)" font-size="20.67" font-weight="normal" text-anchor="middle" fill="#000" stroke="#000" stroke-width="0.45">#</text>
<text transform="translate(1481.30,697.80) scale(1.009,1.000)" font-size="20.67" font-weight="normal" text-anchor="middle" fill="#000" stroke="#000" stroke-width="0.45">#</text>
<text transform="translate(1678.60,745.60) scale(1.300,1.000)" font-size="30.4" font-weight="normal" text-anchor="middle" fill="#000" stroke="#000" stroke-width="0.3" stroke-linejoin="round">*</text>
<text transform="translate(1678.40,756.00) scale(0.991,1.000)" font-size="21.2" font-weight="normal" text-anchor="middle" fill="#000" stroke="#000" stroke-width="0.45">##</text>
<path d="M107.00,56.90H129.60" stroke="#6CC5CD" stroke-width="1.6" fill="none"/>
<polygon points="118.30,53.66 113.82,60.14 122.78,60.14" fill="#6CC5CD"/>
<text transform="translate(142.80,61.70) scale(1.110,1.000)" font-size="15.3" font-weight="normal" text-anchor="start" fill="#1a1a1a">vehicle</text>
<path d="M107.00,82.30H129.60" stroke="#43E6AE" stroke-width="1.6" fill="none"/>
<polygon points="118.30,85.54 113.82,79.06 122.78,79.06" fill="#43E6AE"/>
<text transform="translate(142.80,86.90) scale(1.110,1.000)" font-size="15.3" font-weight="normal" text-anchor="start" fill="#1a1a1a">TH5487</text>
<path d="M107.00,107.80H129.60" stroke="#A88CD8" stroke-width="1.6" fill="none"/>
<circle cx="118.30" cy="107.80" r="4.00" fill="#A88CD8"/>
<text transform="translate(142.80,112.20) scale(1.110,1.000)" font-size="15.3" font-weight="normal" text-anchor="start" fill="#1a1a1a">OVA</text>
<path d="M107.00,133.00H129.60" stroke="#20C0FF" stroke-width="1.6" fill="none"/>
<rect x="114.30" y="129.00" width="8.00" height="8.00" fill="#20C0FF"/>
<text transform="translate(142.80,137.60) scale(1.110,1.000)" font-size="15.3" font-weight="normal" text-anchor="start" fill="#1a1a1a">OVA/TH5487</text>
<path d="M115.00,510.75H137.00" stroke="#6CC5CD" stroke-width="1.6" fill="none"/>
<polygon points="126.00,507.51 121.52,513.99 130.48,513.99" fill="#6CC5CD"/>
<text transform="translate(150.00,515.60) scale(1.110,1.000)" font-size="15.3" font-weight="normal" text-anchor="start" fill="#1a1a1a">vehicle</text>
<path d="M115.00,536.25H137.00" stroke="#43E6AE" stroke-width="1.6" fill="none"/>
<polygon points="126.00,539.49 121.52,533.01 130.48,533.01" fill="#43E6AE"/>
<text transform="translate(150.00,541.20) scale(1.110,1.000)" font-size="15.3" font-weight="normal" text-anchor="start" fill="#1a1a1a">TH5487</text>
<path d="M115.00,561.75H137.00" stroke="#A88CD8" stroke-width="1.6" fill="none"/>
<circle cx="126.00" cy="561.75" r="4.00" fill="#A88CD8"/>
<text transform="translate(150.00,566.40) scale(1.110,1.000)" font-size="15.3" font-weight="normal" text-anchor="start" fill="#1a1a1a">OVA</text>
<path d="M115.00,587.00H137.00" stroke="#20C0FF" stroke-width="1.6" fill="none"/>
<rect x="122.00" y="583.00" width="8.00" height="8.00" fill="#20C0FF"/>
<text transform="translate(150.00,591.80) scale(1.110,1.000)" font-size="15.3" font-weight="normal" text-anchor="start" fill="#1a1a1a">OVA/TH5487</text>
</svg>
</body></html>
